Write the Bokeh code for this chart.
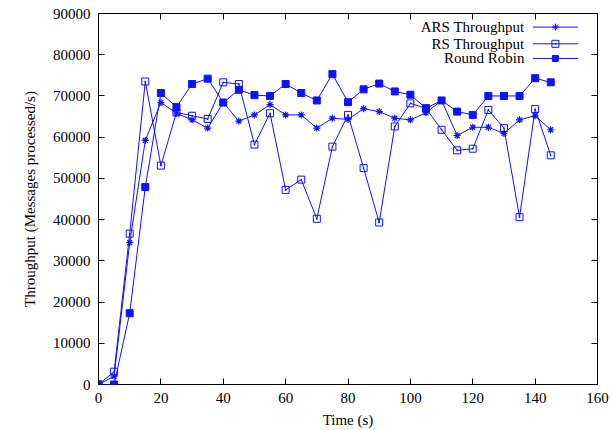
from bokeh.plotting import figure
from bokeh.models import Range1d, LinearAxis, FixedTicker, Label
from bokeh.embed import file_html
from bokeh.resources import INLINE

# Throughput samples, one every 5 seconds
time_s = [0, 5, 10, 15, 20, 25, 30, 35, 40, 45, 50, 55, 60, 65, 70,
          75, 80, 85, 90, 95, 100, 105, 110, 115, 120, 125, 130, 135, 140, 145]
ars = [0, 2000, 34400, 59200, 68400, 65800, 64200, 62200, 68400, 63900,
       65400, 67900, 65400, 65400, 62200, 64600, 64300, 66900, 66200, 64600,
       64200, 65900, 68900, 60400, 62400, 62400, 60900, 64200, 65200, 61800]
rs = [0, 3100, 36600, 73500, 53100, 66000, 65200, 64400, 73300, 72900,
      58200, 65800, 47200, 49700, 40200, 57700, 65400, 52500, 39300, 62600,
      68200, 67000, 61800, 56800, 57200, 66600, 62200, 40600, 66800, 55600]
round_robin = [0, 0, 17300, 47900, 70700, 67300, 72900, 74200, 68400, 71500,
               70200, 70000, 72900, 70700, 68900, 75300, 68500, 71600, 73000, 71100,
               70300, 67000, 68900, 66200, 65400, 70000, 70000, 70000, 74300, 73300]

series_names = ["ARS Throughput", "RS Throughput", "Round Robin"]
x_ticks = [0, 20, 40, 60, 80, 100, 120, 140, 160]
y_ticks = [0, 10000, 20000, 30000, 40000, 50000, 60000, 70000, 80000, 90000]

FONT = "Liberation Serif"
BLUE = "#1010ff"

p = figure(width=612, height=430, output_backend="svg", toolbar_location=None,
           x_range=Range1d(0, 160), y_range=Range1d(0, 90000),
           min_border_left=98, min_border_right=15, min_border_top=13,
           min_border_bottom=46, x_axis_label="Time (s)",
           y_axis_label="Throughput (Messages processed/s)")
p.grid.visible = False
p.outline_line_color = "black"
p.outline_line_width = 1
p.background_fill_color = "white"
p.border_fill_color = "white"

def style_axis(ax, ticks):
    ax.ticker = FixedTicker(ticks=ticks)
    ax.major_tick_in = 6
    ax.major_tick_out = 0
    ax.minor_tick_line_color = None
    ax.major_tick_line_color = "black"
    ax.axis_line_color = None
    ax.major_label_text_font = FONT
    ax.major_label_text_font_size = "15px"
    ax.major_label_text_color = "black"
    ax.major_label_standoff = 8
    ax.axis_label_text_font = FONT
    ax.axis_label_text_font_size = "15px"
    ax.axis_label_text_font_style = "normal"
    ax.axis_label_text_color = "black"

def mirror_axis(ticks):
    # tick marks only, no labels
    ax = LinearAxis(major_label_text_color=None, major_label_text_font_size="1px",
                    major_label_standoff=0)
    ax.ticker = FixedTicker(ticks=ticks)
    ax.major_tick_in = 6
    ax.major_tick_out = 0
    ax.minor_tick_line_color = None
    ax.major_tick_line_color = "black"
    ax.axis_line_color = None
    return ax

style_axis(p.xaxis[0], x_ticks)
style_axis(p.yaxis[0], y_ticks)
p.xaxis[0].axis_label_standoff = 6
p.yaxis[0].axis_label_standoff = 12

p.add_layout(mirror_axis(x_ticks), "above")
p.add_layout(mirror_axis(y_ticks), "right")

# data series
p.line(time_s, ars, line_color=BLUE, line_width=1)
p.scatter(time_s, ars, marker="asterisk", size=7, line_color=BLUE, line_width=1.2)

p.line(time_s, rs, line_color=BLUE, line_width=1)
p.scatter(time_s, rs, marker="square_dot", size=7, line_color=BLUE,
          fill_color=None, line_width=1)

p.line(time_s, round_robin, line_color=BLUE, line_width=1)
p.scatter(time_s, round_robin, marker="square", size=7, line_color=BLUE,
          fill_color=BLUE)

# key in the upper right corner: label, then sample line with marker
key_rows_y = [86700, 82650, 79100]
key_markers = [("asterisk", None), ("square_dot", None), ("square", BLUE)]
for name, ky, (mk, fc) in zip(series_names, key_rows_y, key_markers):
    p.add_layout(Label(x=136.6, y=ky, text=name, text_align="right",
                       text_baseline="middle", text_font=FONT,
                       text_font_size="15px", text_color="black"))
    p.line([139.3, 153.8], [ky, ky], line_color=BLUE, line_width=1)
    p.scatter([146.5], [ky], marker=mk, size=7 if mk != "square" else 6,
              line_color=BLUE, fill_color=fc, line_width=1)

open("out.html", "w").write(file_html(p, INLINE))
